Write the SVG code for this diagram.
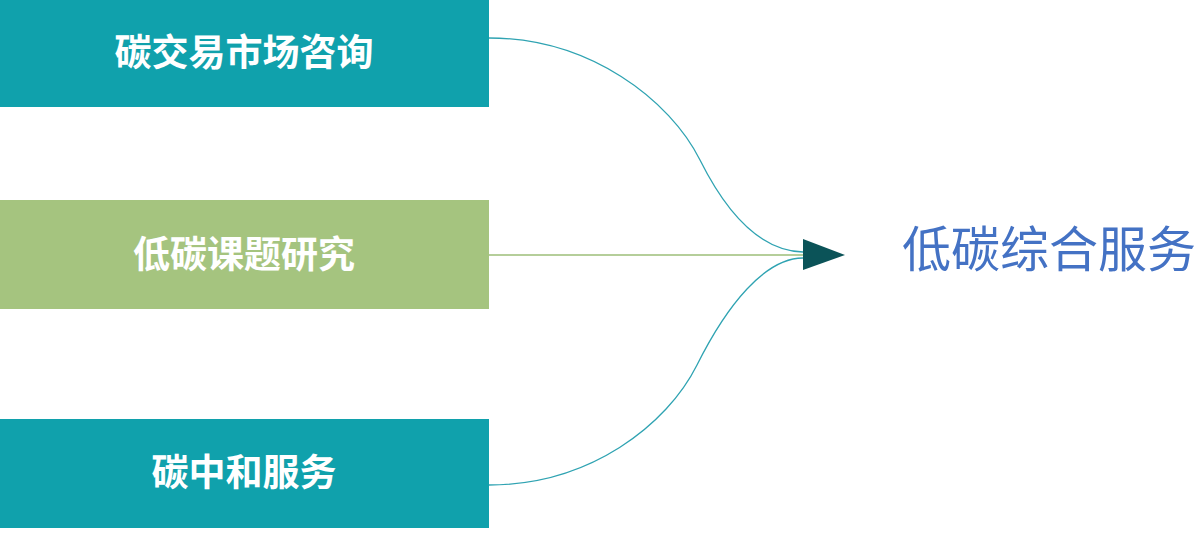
<svg xmlns="http://www.w3.org/2000/svg" width="1200" height="548" viewBox="0 0 1200 548">
<style>
.box-teal{fill:#10A1AC}
.box-green{fill:#A5C47F}
.lbl{font-family:"Noto Sans CJK SC","Noto Sans",sans-serif;font-weight:bold;font-size:37px;fill:#FFFFFF;text-anchor:middle}
.title{font-family:"Noto Sans CJK SC","Noto Sans",sans-serif;font-size:49px;fill:#4472C4;text-anchor:middle}
.conn{fill:none;stroke-width:1.3}
</style>
<rect width="1200" height="548" fill="#FFFFFF"/>
<g id="connectors">
<path class="conn" stroke="#2FA3B2" d="M489,38 C590,38 670,100 700,160 C730,220 765,251 803,252"/>
<path class="conn" stroke="#9DBE78" d="M489,255 L803,255"/>
<path class="conn" stroke="#2FA3B2" d="M489,485 C590,485 667,425 697,365 C727,305 765,258 803,258"/>
<polygon points="803,239 845,255 803,270" fill="#0B5358"/>
</g>
<g id="node-1">
<rect class="box-teal" x="0" y="0" width="489" height="107"/>
<text class="lbl" x="244" y="66">碳交易市场咨询</text>
</g>
<g id="node-2">
<rect class="box-green" x="0" y="200" width="489" height="109"/>
<text class="lbl" x="244" y="268">低碳课题研究</text>
</g>
<g id="node-3">
<rect class="box-teal" x="0" y="419" width="489" height="109"/>
<text class="lbl" x="244" y="486">碳中和服务</text>
</g>
<g id="node-target">
<text class="title" x="1049" y="267">低碳综合服务</text>
</g>
</svg>
